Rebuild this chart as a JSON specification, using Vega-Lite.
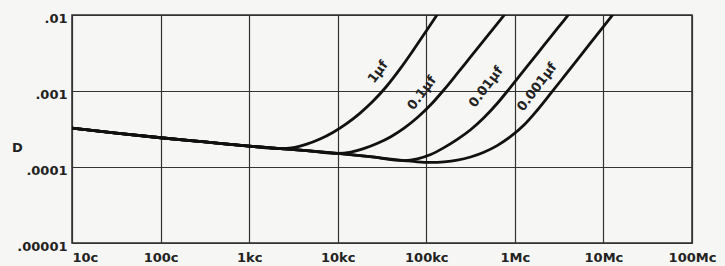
{
  "$schema": "https://vega.github.io/schema/vega-lite/v6.json",
  "width": 620,
  "height": 228,
  "autosize": {"type": "none"},
  "padding": {"left": 72, "top": 15, "right": 33, "bottom": 23},
  "background": "#f6f6f4",
  "config": {"view": {"stroke": "#2a2a2a", "strokeWidth": 1.5}, "font": "DejaVu Sans"},
  "datasets": {
    "curves": [
      {"cap": "1µf", "f": 10, "D": 0.0003258},
      {"cap": "1µf", "f": 31.6, "D": 0.0002786},
      {"cap": "1µf", "f": 100, "D": 0.0002427},
      {"cap": "1µf", "f": 316.2, "D": 0.0002138},
      {"cap": "1µf", "f": 1000, "D": 0.0001884},
      {"cap": "1µf", "f": 2239, "D": 0.000175},
      {"cap": "1µf", "f": 3162, "D": 0.0001799},
      {"cap": "1µf", "f": 4467, "D": 0.0001995},
      {"cap": "1µf", "f": 6310, "D": 0.0002331},
      {"cap": "1µf", "f": 8913, "D": 0.0002868},
      {"cap": "1µf", "f": 12590, "D": 0.0003715},
      {"cap": "1µf", "f": 17780, "D": 0.000507},
      {"cap": "1µf", "f": 25120, "D": 0.0007362},
      {"cap": "1µf", "f": 35480, "D": 0.001146},
      {"cap": "1µf", "f": 50120, "D": 0.001923},
      {"cap": "1µf", "f": 70790, "D": 0.0034},
      {"cap": "1µf", "f": 100000, "D": 0.006158},
      {"cap": "1µf", "f": 141300, "D": 0.01127},

      {"cap": "0.1µf", "f": 10, "D": 0.0003258},
      {"cap": "0.1µf", "f": 31.6, "D": 0.0002786},
      {"cap": "0.1µf", "f": 100, "D": 0.0002427},
      {"cap": "0.1µf", "f": 316.2, "D": 0.0002138},
      {"cap": "0.1µf", "f": 1000, "D": 0.0001884},
      {"cap": "0.1µf", "f": 2239, "D": 0.000175},
      {"cap": "0.1µf", "f": 4467, "D": 0.0001641},
      {"cap": "0.1µf", "f": 10000, "D": 0.0001507},
      {"cap": "0.1µf", "f": 14130, "D": 0.000157},
      {"cap": "0.1µf", "f": 19950, "D": 0.0001754},
      {"cap": "0.1µf", "f": 28180, "D": 0.0002049},
      {"cap": "0.1µf", "f": 39810, "D": 0.0002503},
      {"cap": "0.1µf", "f": 56230, "D": 0.0003243},
      {"cap": "0.1µf", "f": 79430, "D": 0.0004472},
      {"cap": "0.1µf", "f": 112200, "D": 0.0006584},
      {"cap": "0.1µf", "f": 158500, "D": 0.001039},
      {"cap": "0.1µf", "f": 223900, "D": 0.001702},
      {"cap": "0.1µf", "f": 316200, "D": 0.002809},
      {"cap": "0.1µf", "f": 446700, "D": 0.004634},
      {"cap": "0.1µf", "f": 631000, "D": 0.007646},
      {"cap": "0.1µf", "f": 891300, "D": 0.01262},

      {"cap": "0.01µf", "f": 10, "D": 0.0003258},
      {"cap": "0.01µf", "f": 31.6, "D": 0.0002786},
      {"cap": "0.01µf", "f": 100, "D": 0.0002427},
      {"cap": "0.01µf", "f": 316.2, "D": 0.0002138},
      {"cap": "0.01µf", "f": 1000, "D": 0.0001884},
      {"cap": "0.01µf", "f": 2239, "D": 0.000175},
      {"cap": "0.01µf", "f": 4467, "D": 0.0001641},
      {"cap": "0.01µf", "f": 10000, "D": 0.0001507},
      {"cap": "0.01µf", "f": 23170, "D": 0.0001365},
      {"cap": "0.01µf", "f": 56230, "D": 0.0001216},
      {"cap": "0.01µf", "f": 79430, "D": 0.0001281},
      {"cap": "0.01µf", "f": 112200, "D": 0.000146},
      {"cap": "0.01µf", "f": 158500, "D": 0.0001797},
      {"cap": "0.01µf", "f": 223900, "D": 0.0002304},
      {"cap": "0.01µf", "f": 316200, "D": 0.000309},
      {"cap": "0.01µf", "f": 446700, "D": 0.0004441},
      {"cap": "0.01µf", "f": 631000, "D": 0.0006839},
      {"cap": "0.01µf", "f": 891300, "D": 0.001117},
      {"cap": "0.01µf", "f": 1259000, "D": 0.001849},
      {"cap": "0.01µf", "f": 1778000, "D": 0.003062},
      {"cap": "0.01µf", "f": 2512000, "D": 0.00507},
      {"cap": "0.01µf", "f": 3548000, "D": 0.008395},
      {"cap": "0.01µf", "f": 5012000, "D": 0.0139},

      {"cap": "0.001µf", "f": 10, "D": 0.0003258},
      {"cap": "0.001µf", "f": 31.6, "D": 0.0002786},
      {"cap": "0.001µf", "f": 100, "D": 0.0002427},
      {"cap": "0.001µf", "f": 316.2, "D": 0.0002138},
      {"cap": "0.001µf", "f": 1000, "D": 0.0001884},
      {"cap": "0.001µf", "f": 2239, "D": 0.000175},
      {"cap": "0.001µf", "f": 4467, "D": 0.0001641},
      {"cap": "0.001µf", "f": 10000, "D": 0.0001507},
      {"cap": "0.001µf", "f": 23170, "D": 0.0001365},
      {"cap": "0.001µf", "f": 56230, "D": 0.0001216},
      {"cap": "0.001µf", "f": 79430, "D": 0.0001167},
      {"cap": "0.001µf", "f": 112200, "D": 0.0001147},
      {"cap": "0.001µf", "f": 158500, "D": 0.0001167},
      {"cap": "0.001µf", "f": 223900, "D": 0.0001229},
      {"cap": "0.001µf", "f": 316200, "D": 0.0001354},
      {"cap": "0.001µf", "f": 446700, "D": 0.0001565},
      {"cap": "0.001µf", "f": 631000, "D": 0.0001912},
      {"cap": "0.001µf", "f": 891300, "D": 0.0002503},
      {"cap": "0.001µf", "f": 1259000, "D": 0.0003536},
      {"cap": "0.001µf", "f": 1778000, "D": 0.000554},
      {"cap": "0.001µf", "f": 2512000, "D": 0.0009141},
      {"cap": "0.001µf", "f": 3548000, "D": 0.001519},
      {"cap": "0.001µf", "f": 5012000, "D": 0.002532},
      {"cap": "0.001µf", "f": 7079000, "D": 0.004222},
      {"cap": "0.001µf", "f": 10000000, "D": 0.00704},
      {"cap": "0.001µf", "f": 14130000, "D": 0.01173}
    ],
    "labels": [
      {"cap": "1µf", "f": 28500, "D": 0.001778},
      {"cap": "0.1µf", "f": 89300, "D": 0.000942},
      {"cap": "0.01µf", "f": 472000, "D": 0.001129},
      {"cap": "0.001µf", "f": 1780000, "D": 0.001129}
    ]
  },
  "layer": [
    {
      "data": {"name": "curves"},
      "mark": {"type": "line", "color": "#111111", "strokeWidth": 2.8, "interpolate": "monotone", "clip": true},
      "encoding": {
        "x": {
          "field": "f", "type": "quantitative",
          "scale": {"type": "log", "domain": [10, 100000000], "nice": false},
          "axis": {
            "title": null,
            "values": [10, 100, 1000, 10000, 100000, 1000000, 10000000, 100000000],
            "labelExpr": "datum.value < 1000 ? toString(round(datum.value)) + 'c' : datum.value < 1000000 ? toString(round(datum.value / 1000)) + 'kc' : toString(round(datum.value / 1000000)) + 'Mc'",
            "grid": true, "gridColor": "#333333", "gridWidth": 1.2, "gridOpacity": 1,
            "ticks": false, "domain": false,
            "labelFont": "DejaVu Sans", "labelFontWeight": "bold", "labelFontSize": 13, "labelColor": "#222222",
            "labelPadding": 8, "labelFlush": false, "labelOverlap": false, "labelBound": false,
            "labelAlign": {"condition": {"test": "datum.value < 20", "value": "left"}, "value": "center"}
          }
        },
        "y": {
          "field": "D", "type": "quantitative",
          "scale": {"type": "log", "domain": [0.00001, 0.01], "nice": false},
          "axis": {
            "title": "D", "titleAngle": 0, "titleX": -55, "titleY": 132,
            "titleAlign": "center", "titleBaseline": "middle",
            "titleFont": "DejaVu Sans", "titleFontWeight": "bold", "titleFontSize": 13, "titleColor": "#222222",
            "values": [0.00001, 0.0001, 0.001, 0.01],
            "labelExpr": "datum.value < 0.00005 ? '.00001' : datum.value < 0.0005 ? '.0001' : datum.value < 0.005 ? '.001' : '.01'",
            "grid": true, "gridColor": "#333333", "gridWidth": 1.2, "gridOpacity": 1,
            "ticks": false, "domain": false,
            "labelFont": "DejaVu Sans", "labelFontWeight": "bold", "labelFontSize": 13, "labelColor": "#222222",
            "labelPadding": 5, "labelOffset": 3, "labelFlush": false, "labelOverlap": false, "labelBound": false
          }
        },
        "detail": {"field": "cap"}
      }
    },
    {
      "data": {"name": "labels"},
      "mark": {"type": "text", "angle": 307, "font": "DejaVu Sans", "fontWeight": "bold", "fontSize": 13, "color": "#222222", "align": "center", "baseline": "middle"},
      "encoding": {
        "x": {"field": "f", "type": "quantitative"},
        "y": {"field": "D", "type": "quantitative"},
        "text": {"field": "cap"}
      }
    }
  ]
}
